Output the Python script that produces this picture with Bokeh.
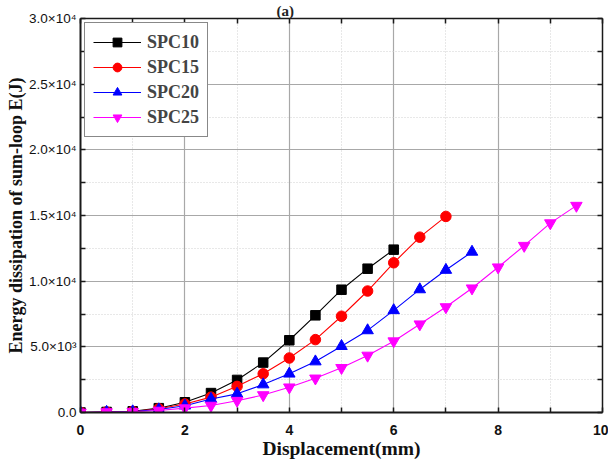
from bokeh.plotting import figure
from bokeh.models import FixedTicker, LinearAxis, Legend, LegendItem, Range1d
from bokeh.embed import file_html
from bokeh.resources import INLINE

# Displacement steps (mm) and cumulative dissipated energy (J) per specimen
displacement = [0.0, 0.5, 1.0, 1.5, 2.0, 2.5, 3.0, 3.5, 4.0, 4.5,
                5.0, 5.5, 6.0, 6.5, 7.0, 7.5, 8.0, 8.5, 9.0, 9.5]
spc10 = [0, 40, 90, 330, 780, 1480, 2480, 3800, 5500, 7400, 9350, 10950, 12400]
spc15 = [0, 40, 80, 280, 650, 1170, 1990, 2950, 4150, 5550, 7330, 9250, 11400,
         13350, 14930]
spc20 = [0, 40, 80, 230, 520, 1030, 1420, 2130, 2950, 3880, 5050, 6250, 7780,
         9370, 10850, 12230]
spc25 = [0, 30, 60, 150, 330, 530, 900, 1330, 1920, 2600, 3400, 4340, 5430,
         6720, 8030, 9460, 11060, 12700, 14420, 15750]

series_names = ["SPC10", "SPC15", "SPC20", "SPC25"]
series_values = [spc10, spc15, spc20, spc25]
series_colors = ["#000000", "#ff0000", "#0000ff", "#ff00ff"]
series_markers = ["square", "circle", "triangle", "inverted_triangle"]
marker_sizes = [9.5, 10.5, 11.5, 11.5]

x_major = [0, 2, 4, 6, 8, 10]
x_minor = [1, 3, 5, 7, 9]
y_major = [0, 5000, 10000, 15000, 20000, 25000, 30000]
y_minor = [2500, 7500, 12500, 17500, 22500, 27500]
y_tick_labels = ["0.0", "5.0×10³", "1.0×10⁴", "1.5×10⁴", "2.0×10⁴", "2.5×10⁴", "3.0×10⁴"]

serif = "Liberation Serif"
sans = "Liberation Sans"

p = figure(width=608, height=463, output_backend="svg", toolbar_location=None,
           x_range=Range1d(0, 10), y_range=Range1d(0, 30000),
           min_border_left=80, min_border_right=6, min_border_top=0,
           min_border_bottom=51, background_fill_color="white",
           border_fill_color="white", title="(a)")
p.outline_line_color = None

# panel tag above the frame
p.title.text_font = serif
p.title.text_font_style = "bold"
p.title.text_font_size = "15px"
p.title.text_color = "#222222"
p.title.align = "left"
p.title.offset = 196
p.title.standoff = 0

xt = FixedTicker(ticks=x_major, minor_ticks=x_minor)
yt = FixedTicker(ticks=y_major, minor_ticks=y_minor)

def style_axis(ax, ticker, labels=True):
    ax.ticker = ticker
    ax.axis_line_color = "#1a1a1a"
    ax.axis_line_width = 2
    ax.major_tick_in = 5
    ax.major_tick_out = 0
    ax.minor_tick_in = 5
    ax.minor_tick_out = 0
    ax.major_tick_line_color = "#1a1a1a"
    ax.minor_tick_line_color = "#1a1a1a"
    ax.major_tick_line_width = 1.5
    ax.minor_tick_line_width = 1.5
    if not labels:
        ax.major_label_text_font_size = "0px"
        ax.major_label_text_color = None
        ax.major_label_standoff = 0

xa = p.xaxis[0]
style_axis(xa, xt)
xa.axis_label = "Displacement(mm)"
xa.axis_label_text_font = serif
xa.axis_label_text_font_style = "bold"
xa.axis_label_text_font_size = "19.5px"
xa.axis_label_text_color = "#111111"
xa.axis_label_standoff = 0
xa.major_label_text_font = sans
xa.major_label_text_font_size = "14px"
xa.major_label_text_font_style = "bold"
xa.major_label_text_color = "#111111"
xa.major_label_standoff = 12

ya = p.yaxis[0]
style_axis(ya, yt)
ya.axis_label = "Energy dissipation of sum-loop E(J)"
ya.axis_label_text_font = serif
ya.axis_label_text_font_style = "bold"
ya.axis_label_text_font_size = "18px"
ya.axis_label_text_color = "#111111"
ya.axis_label_standoff = 0
ya.major_label_text_font = sans
ya.major_label_text_font_size = "13.5px"
ya.major_label_text_color = "#111111"
ya.major_label_standoff = 4
ya.major_label_overrides = {v: s for v, s in zip(y_major, y_tick_labels)}

top = LinearAxis()
style_axis(top, xt, labels=False)
top.axis_line_width = 1.5
p.add_layout(top, "above")
right = LinearAxis()
style_axis(right, yt, labels=False)
right.axis_line_width = 1.5
p.add_layout(right, "right")

for g, t in ((p.xgrid[0], xt), (p.ygrid[0], yt)):
    g.ticker = t
    g.grid_line_color = "#a8a8a8"
    g.grid_line_width = 1.2
    g.minor_grid_line_color = "#d0d0d0"
    g.minor_grid_line_dash = "1 2"
    g.minor_grid_line_width = 1

items = []
for name, vals, color, marker, ms in zip(series_names, series_values,
                                         series_colors, series_markers, marker_sizes):
    xs = displacement[:len(vals)]
    ln = p.line(xs, vals, line_color=color, line_width=1.1)
    sc = p.scatter(xs, vals, marker=marker, size=ms, fill_color=color,
                   line_color=color)
    items.append(LegendItem(label=name, renderers=[ln, sc]))

legend = Legend(items=items, location="top_left")
legend.margin = 4
legend.padding = 8
legend.spacing = 3
legend.glyph_width = 48
legend.glyph_height = 22
legend.label_height = 22
legend.label_standoff = 6
legend.label_text_font = serif
legend.label_text_font_style = "bold"
legend.label_text_font_size = "18px"
legend.border_line_color = "#111111"
legend.border_line_width = 1
legend.background_fill_alpha = 1
p.add_layout(legend)

open("out.html", "w").write(file_html(p, INLINE))
